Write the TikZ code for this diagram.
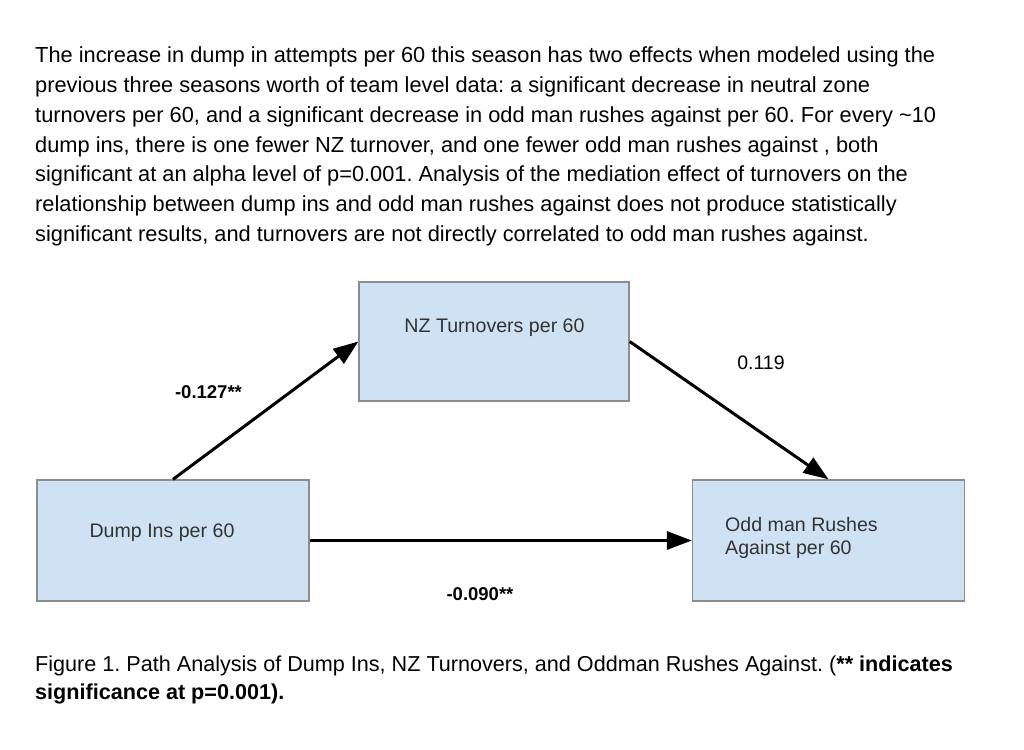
\documentclass[tikz,border=0pt]{standalone}
\usepackage{fontspec}
\setmainfont{Liberation Sans}
\usetikzlibrary{arrows.meta}
\definecolor{boxfill}{HTML}{CFE2F3}
\definecolor{boxline}{HTML}{8C8C8C}
\definecolor{boxtext}{HTML}{333333}
\frenchspacing
\begin{document}
\begin{tikzpicture}[x=1pt,y=-1pt,
  para/.style={anchor=base west,inner sep=0pt,font=\fontsize{21.8}{25}\selectfont},
  capt/.style={anchor=base west,inner sep=0pt,font=\fontsize{21.6}{24}\selectfont},
  varbox/.style={draw=boxline,line width=1.3pt,fill=boxfill,minimum width=272pt,minimum height=121pt,inner sep=0pt},
  vartext/.style={inner sep=0pt,text=boxtext,font=\fontsize{19.6}{23}\selectfont},
  coef/.style={inner sep=0pt,font=\fontsize{19.5}{22}\selectfont},
  boldcoef/.style={inner sep=0pt,font=\bfseries\fontsize{18.5}{22}\selectfont},
  path/.style={line width=3pt,-{Triangle[length=25pt,width=18pt]}}]
\useasboundingbox (0,0) rectangle (1024,749);
\fill[white] (0,0) rectangle (1024,749);
% paragraph
\node[para] (p1) at (35,62.7) {The increase in dump in attempts per 60 this season has two effects when modeled using the};
\node[para] (p2) at (35,92.5) {previous three seasons worth of team level data: a significant decrease in neutral zone};
\node[para] (p3) at (35,122.3) {turnovers per 60, and a significant decrease in odd man rushes against per 60. For every \textasciitilde10};
\node[para] (p4) at (35,152.1) {dump ins, there is one fewer NZ turnover, and one fewer odd man rushes against , both};
\node[para] (p5) at (35,181.9) {significant at an alpha level of p=0.001. Analysis of the mediation effect of turnovers on the};
\node[para] (p6) at (35,211.7) {relationship between dump ins and odd man rushes against does not produce statistically};
\node[para] (p7) at (35,241.5) {significant results, and turnovers are not directly correlated to odd man rushes against.};
% boxes
\node[varbox,minimum width=270pt,minimum height=119pt] (nz) at (494,341.5) {};
\node[varbox] (dump) at (173,540.5) {};
\node[varbox] (odd) at (828.5,540.5) {};
\node[vartext] (nzt) at (494.5,328) {NZ Turnovers per 60};
\node[vartext] (dumpt) at (162,533) {Dump Ins per 60};
\node[vartext,anchor=west,align=left] (oddt) at (725,537.5) {Odd man Rushes\\Against per 60};
% paths
\draw[path] (dump.north) -- (nz.west);
\draw[path] (nz.east) -- (odd.north);
\draw[path] (dump.east) -- (odd.west);
% coefficients
\node[boldcoef] (c1) at (208.5,392) {-0.127**};
\node[coef] (c2) at (761,363) {0.119};
\node[boldcoef] (c3) at (480,594) {-0.090**};
% caption
\node[capt] (cap1) at (35,671) {Figure 1. Path Analysis of Dump Ins, NZ Turnovers, and Oddman Rushes Against. (\textbf{** indicates}};
\node[capt,font=\bfseries\fontsize{21.6}{24}\selectfont] (cap2) at (35,699) {significance at p=0.001).};
\end{tikzpicture}
\end{document}
